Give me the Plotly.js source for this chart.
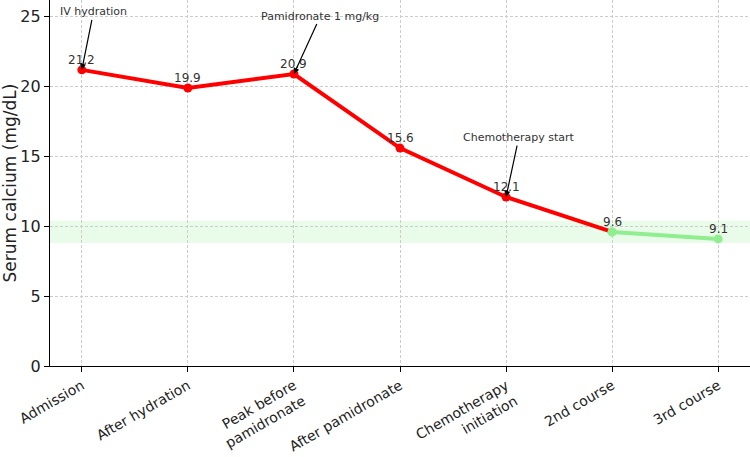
<!DOCTYPE html>
<html>
<head>
<meta charset="utf-8">
<script src="https://cdn.plot.ly/plotly-3.0.1.min.js"></script>
<style>html,body{margin:0;padding:0;background:#fff}#chart{width:750px;height:457px}</style>
</head>
<body>
<div id="chart"></div>
<script>
const categories = ["Admission", "After hydration", "Peak before<br>pamidronate", "After pamidronate", "Chemotherapy<br>initiation", "2nd course", "3rd course"];
const calcium = [21.2, 19.9, 20.9, 15.6, 12.1, 9.6, 9.1];
const normalRange = [8.8, 10.4];
const events = [
  {idx: 0, text: "IV hydration", dx: 0.11, ty: 25.35},
  {idx: 2, text: "Pamidronate 1 mg/kg", dx: 0.25, ty: 25.05},
  {idx: 4, text: "Chemotherapy start", dx: 0.12, ty: 16.35}
];

const redIdx = [0,1,2,3,4,5];
const greenIdx = [5,6];
const fmt = v => v.toFixed(1);

const redTrace = {
  x: redIdx.map(i => categories[i]),
  y: redIdx.map(i => calcium[i]),
  mode: 'lines+markers',
  line: {color: '#ff0000', width: 4},
  marker: {color: redIdx.map(i => i < 5 ? '#ff0000' : '#90ee90'), size: 9},
  cliponaxis: false,
  hoverinfo: 'skip'
};
const greenTrace = {
  x: greenIdx.map(i => categories[i]),
  y: greenIdx.map(i => calcium[i]),
  mode: 'lines+markers',
  line: {color: '#90ee90', width: 4},
  marker: {color: '#90ee90', size: 9},
  cliponaxis: false,
  hoverinfo: 'skip'
};

const labelAnns = calcium.map((v, i) => ({
  x: categories[i], y: v, xref: 'x', yref: 'y',
  text: fmt(v), showarrow: false, yanchor: 'bottom', yshift: 1,
  font: {family: 'DejaVu Sans', size: 12, color: '#333'}
}));

const eventAnns = events.map(e => ({
  x: e.idx, y: calcium[e.idx], xref: 'x', yref: 'y',
  ax: e.idx + e.dx, ay: e.ty, axref: 'x', ayref: 'y',
  text: e.text, showarrow: true, arrowhead: 2, arrowsize: 1, arrowwidth: 1.2,
  arrowcolor: '#000', standoff: 0,
  font: {family: 'DejaVu Sans', size: 11, color: '#333'}
}));

const gridStyle = {showgrid: true, gridcolor: '#cccccc', griddash: '3px,2px', gridwidth: 1};

const layout = {
  width: 750, height: 457,
  margin: {l: 50, r: 0, t: 0, b: 91},
  paper_bgcolor: '#fff', plot_bgcolor: '#fff',
  showlegend: false,
  font: {family: 'DejaVu Sans', color: '#222'},
  xaxis: Object.assign({
    type: 'category', range: [-0.3, 6.3],
    tickangle: -30, tickfont: {size: 14, color: '#222'},
    showline: true, linecolor: '#000', linewidth: 1.2,
    ticks: 'outside', ticklen: 5, tickcolor: '#000',
    zeroline: false, automargin: false
  }, gridStyle),
  yaxis: Object.assign({
    range: [0, 26.2],
    tickvals: [0, 5, 10, 15, 20, 25],
    tickfont: {size: 16, color: '#222'},
    title: {text: 'Serum calcium (mg/dL)', font: {size: 17, color: '#222'}, standoff: 6},
    showline: true, linecolor: '#000', linewidth: 1.2,
    ticks: 'outside', ticklen: 5, tickcolor: '#000',
    zeroline: false, automargin: false
  }, gridStyle),
  shapes: [{
    type: 'rect', xref: 'paper', yref: 'y', x0: 0, x1: 1,
    y0: normalRange[0], y1: normalRange[1],
    fillcolor: 'rgba(144,238,144,0.2)', line: {width: 0}, layer: 'below'
  }],
  annotations: labelAnns.concat(eventAnns)
};

Plotly.newPlot('chart', [redTrace, greenTrace], layout, {displayModeBar: false, staticPlot: true});
</script>
</body>
</html>
